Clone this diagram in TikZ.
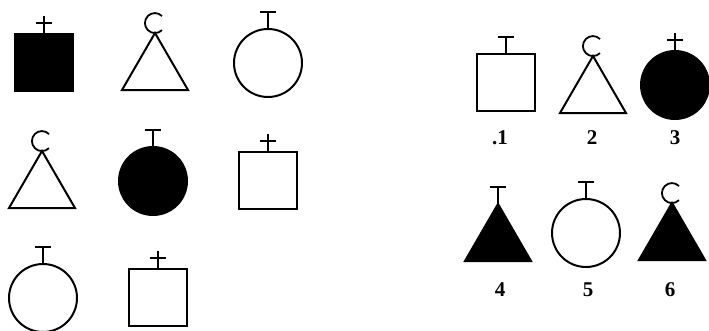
\documentclass[tikz,border=0pt]{standalone}
\usepackage{fontspec}
\setmainfont{Liberation Serif}
\begin{document}
\begin{tikzpicture}[x=1pt,y=-1pt,
  sym/.style={line width=2pt, line join=miter},
  mk/.style={line width=1.8pt},
  lab/.style={font=\fontsize{21}{22}\selectfont\bfseries, inner sep=0pt},
  pics/sq/.style={code={\draw[sym,fill=#1] (-29,0) rectangle (29,57);}},
  pics/sq/.default=white,
  pics/tri/.style={code={\draw[sym,fill=#1] (0,0) -- (-33,57) -- (33,57) -- cycle;}},
  pics/tri/.default=white,
  pics/circ/.style={code={\draw[sym,fill=#1] (0,34) circle[radius=34];}},
  pics/circ/.default=white,
  pics/plus/.style={code={\draw[mk] (0,0) -- (0,-18) (-8,-11) -- (8,-11);}},
  pics/tee/.style={code={\draw[mk] (0,0) -- (0,-17) (-8,-17) -- (8,-17);}},
  pics/cres/.style={code={\draw[mk] (7,-17) arc[start angle=-45,end angle=-315,radius=10];}}
]
\useasboundingbox (0,0) rectangle (709,330);
% left grid, row 1
\pic at (44,34) {sq=black};   \pic at (44,34) {plus};
\pic at (155,33) {tri};       \pic at (155,33) {cres};
\pic at (268,29) {circ};      \pic at (268,29) {tee};
% row 2
\pic at (42,151) {tri};       \pic at (42,151) {cres};
\pic at (153,147) {circ=black}; \pic at (153,147) {tee};
\pic at (268,152) {sq};       \pic at (268,152) {plus};
% row 3
\pic at (43,264) {circ};      \pic at (43,264) {tee};
\pic at (158,269) {sq};       \pic at (158,269) {plus};
% right panel
\pic at (506,54) {sq};        \pic at (506,54) {tee};
\pic at (593,56) {tri};       \pic at (593,56) {cres};
\pic at (675,51) {circ=black}; \pic at (675,51) {plus};
\pic at (498,204) {tri=black}; \pic at (498,204) {tee};
\pic at (586,199) {circ};     \pic at (586,199) {tee};
\pic at (672,203) {tri=black}; \pic at (672,203) {cres};
\node[lab] (l1) at (500,138) {.1};
\node[lab] (l2) at (592,138) {2};
\node[lab] (l3) at (675,138) {3};
\node[lab] (l4) at (500,290) {4};
\node[lab] (l5) at (588,290) {5};
\node[lab] (l6) at (670,290) {6};
\end{tikzpicture}
\end{document}
